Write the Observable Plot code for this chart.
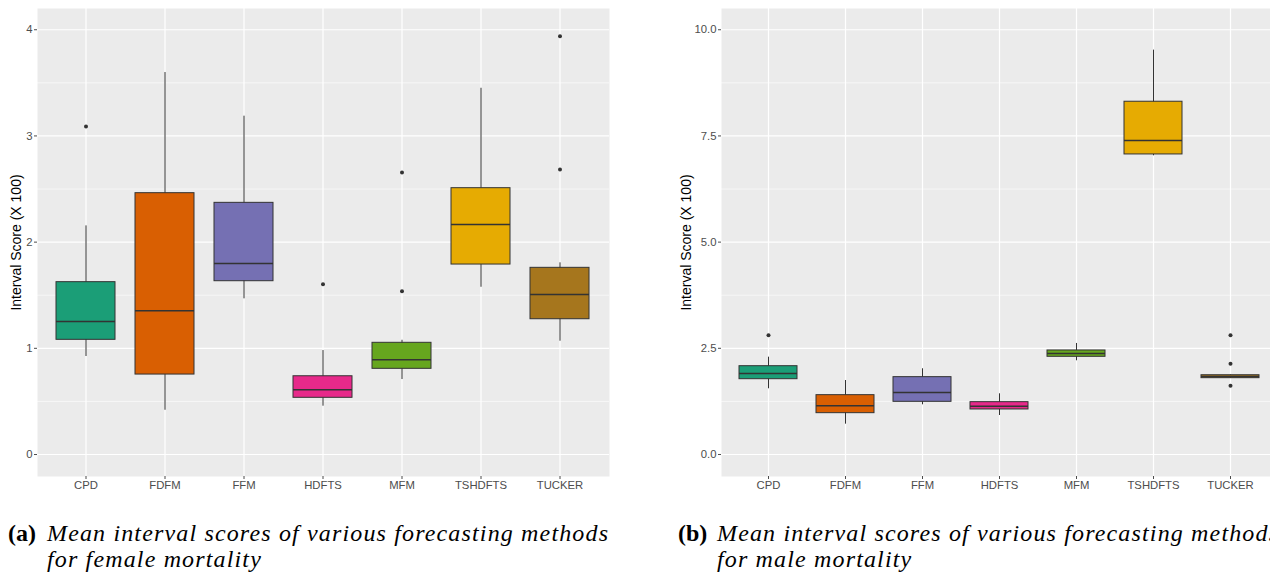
<!DOCTYPE html>
<html>
<head>
<meta charset="utf-8">
<script src="https://cdn.jsdelivr.net/npm/d3@7"></script>
<script src="https://cdn.jsdelivr.net/npm/@observablehq/plot@0.6"></script>
<style>
  html, body { margin: 0; padding: 0; background: white; overflow: hidden; width: 1270px; height: 577px; }
  #left, #right { position: absolute; top: 0; }
  #left { left: 0; }
  #right { left: 635px; }
  svg { font-family: "Liberation Sans", Arial, sans-serif; max-width: none !important; }
  g[aria-label="y-axis label"] text { font-size: 14px; fill: #000; }
  .cap { position: absolute; top: 520px; font-family: "Liberation Serif", serif; font-size: 24px; line-height: 26px; color: #000; white-space: nowrap; }
  .lab { font-weight: bold; }
  .txt { font-style: italic; letter-spacing: 1.15px; }
</style>
</head>
<body>
<div id="left"></div>
<div id="right"></div>
<div class="cap lab" style="left:8px;">(a)</div>
<div class="cap txt" style="left:47px;">Mean interval scores of various forecasting methods<br>for female mortality</div>
<div class="cap lab" style="left:678px;">(b)</div>
<div class="cap txt" style="left:717px;">Mean interval scores of various forecasting methods<br>for male mortality</div>
<script>
// ---- data ----
const methods = ["CPD", "FDFM", "FFM", "HDFTS", "MFM", "TSHDFTS", "TUCKER"];
const methodColors = ["#1B9E77", "#D95F02", "#7570B3", "#E7298A", "#66A61E", "#E6AB02", "#A6761D"];

// Female (panel a)
const femaleLow    = [0.923, 0.417, 1.466, 0.455, 0.706, 1.575, 1.067];
const femaleQ1     = [1.080, 0.753, 1.632, 0.534, 0.807, 1.789, 1.274];
const femaleMedian = [1.252, 1.353, 1.798, 0.609, 0.892, 2.166, 1.507];
const femaleQ3     = [1.623, 2.461, 2.370, 0.737, 1.052, 2.508, 1.758];
const femaleHigh   = [2.153, 3.597, 3.186, 0.979, 1.076, 3.449, 1.805];
const femaleOutliers = [[3.089], [], [], [1.604], [1.538, 2.655], [], [2.684, 3.939]];
const femaleTicks = [0, 1, 2, 3, 4];
const femaleMinor = [0.5, 1.5, 2.5, 3.5];
const femaleDomain = [-0.207, 4.20];

// Male (panel b)
const maleLow    = [1.547, 0.714, 1.170, 0.918, 2.206, 7.032, 1.790];
const maleQ1     = [1.773, 0.973, 1.240, 1.060, 2.300, 7.064, 1.797];
const maleMedian = [1.907, 1.146, 1.460, 1.138, 2.378, 7.393, 1.837];
const maleQ3     = [2.079, 1.397, 1.821, 1.232, 2.449, 8.305, 1.866];
const maleHigh   = [2.291, 1.742, 2.018, 1.429, 2.614, 9.520, 1.872];
const maleOutliers = [[2.809], [], [], [], [], [], [2.809, 2.135, 1.617]];
const maleTicks = [0, 2.5, 5, 7.5, 10];
const maleMinor = [1.25, 3.75, 6.25, 8.75];
const maleDomain = [-0.518, 10.50];

const yTitle = "Interval Score (X 100)";

function buildRows(low, q1, med, q3, high) {
  return methods.map((m, i) => ({method: m, low: low[i], q1: q1[i], median: med[i], q3: q3[i], high: high[i]}));
}
function buildOutliers(out) {
  return out.flatMap((vals, i) => vals.map(v => ({method: methods[i], value: v})));
}

function boxPlot({rows, outliers, ticks, minor, domain, fmt, width, marginLeft, marginRight, labelOffset}) {
  return Plot.plot({
    width, height: 500,
    marginLeft, marginRight, marginTop: 8, marginBottom: 24,
    x: {domain: methods, paddingInner: 0.25, paddingOuter: 0.225, label: null},
    y: {domain, label: null},
    color: {domain: methods, range: methodColors},
    style: {background: "white", fontFamily: "Liberation Sans, Arial, sans-serif"},
    marks: [
      Plot.frame({fill: "#EBEBEB", stroke: null}),
      Plot.gridY({ticks: minor, stroke: "white", strokeOpacity: 1, strokeWidth: 0.6}),
      Plot.gridY({ticks, stroke: "white", strokeOpacity: 1, strokeWidth: 1.2}),
      Plot.gridX({stroke: "white", strokeOpacity: 1, strokeWidth: 1.2}),
      Plot.ruleX(rows, {x: "method", y1: "low", y2: "high", stroke: "#333", strokeWidth: 1}),
      Plot.barY(rows, {x: "method", y1: "q1", y2: "q3", fill: "method", stroke: "#333", strokeWidth: 1, inset: 0}),
      Plot.tickY(rows, {x: "method", y: "median", stroke: "#333", strokeWidth: 1.5}),
      Plot.dot(outliers, {x: "method", y: "value", r: 2, fill: "#333", stroke: null}),
      Plot.axisX({tickSize: 3, tickPadding: 1, fontSize: 11.3, color: "#4d4d4d", label: null}),
      Plot.axisY({ticks, tickFormat: fmt, tickSize: 3, tickPadding: 2, fontSize: 11.3, color: "#4d4d4d",
        label: yTitle, labelAnchor: "center", labelArrow: "none", labelOffset})
    ]
  });
}

document.getElementById("left").append(boxPlot({
  rows: buildRows(femaleLow, femaleQ1, femaleMedian, femaleQ3, femaleHigh),
  outliers: buildOutliers(femaleOutliers),
  ticks: femaleTicks, minor: femaleMinor, domain: femaleDomain, fmt: d3.format("d"),
  width: 620, marginLeft: 37, marginRight: 11, labelOffset: 26
}));
document.getElementById("right").append(boxPlot({
  rows: buildRows(maleLow, maleQ1, maleMedian, maleQ3, maleHigh),
  outliers: buildOutliers(maleOutliers),
  ticks: maleTicks, minor: maleMinor, domain: maleDomain, fmt: d3.format(".1f"),
  width: 643, marginLeft: 86, marginRight: 0.4, labelOffset: 40
}));
</script>
</body>
</html>
